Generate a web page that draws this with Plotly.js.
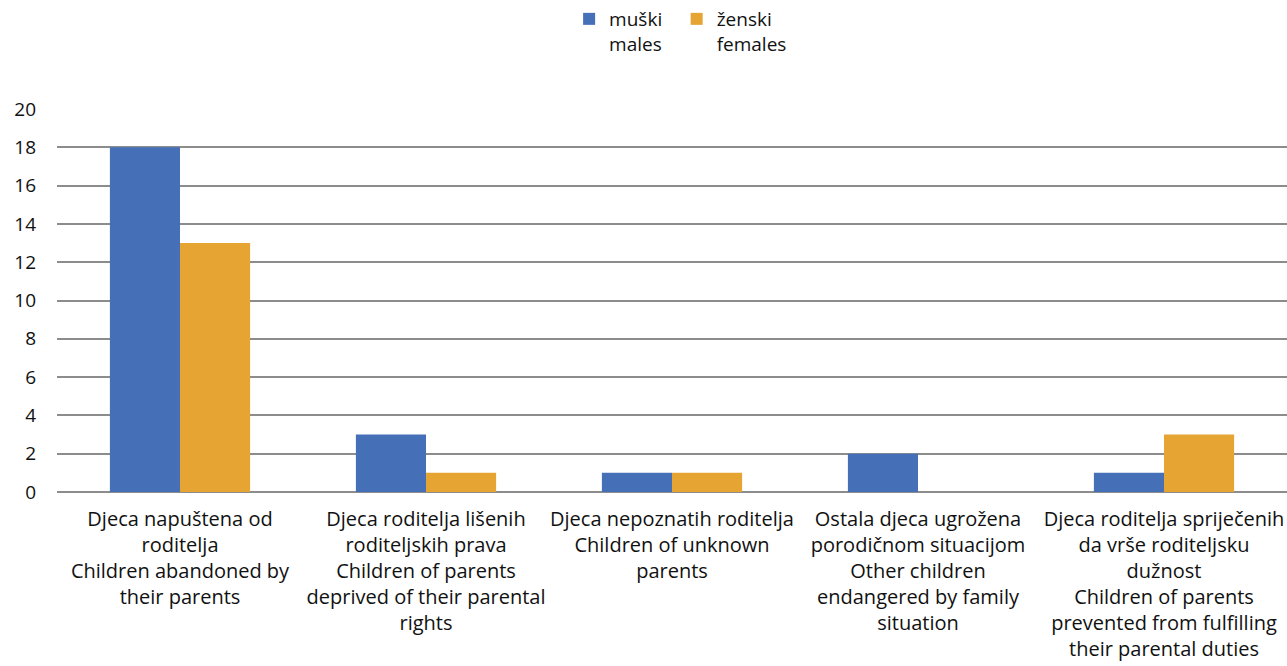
<!DOCTYPE html>
<html>
<head>
<meta charset="utf-8">
<script src="https://cdn.plot.ly/plotly-3.0.1.min.js"></script>
<style>html,body{margin:0;padding:0;background:#fff;}#chart{width:1287px;height:666px;}</style>
</head>
<body>
<div id="chart"></div>
<script>
const categories = [
  "Djeca napuštena od<br>roditelja<br>Children abandoned by<br>their parents",
  "Djeca roditelja lišenih<br>roditeljskih prava<br>Children of parents<br>deprived of their parental<br>rights",
  "Djeca nepoznatih roditelja<br>Children of unknown<br>parents",
  "Ostala djeca ugrožena<br>porodičnom situacijom<br>Other children<br>endangered by family<br>situation",
  "Djeca roditelja spriječenih<br>da vrše roditeljsku<br>dužnost<br>Children of parents<br>prevented from fulfilling<br>their parental duties"
];
const males = [18, 3, 1, 2, 1];
const females = [13, 1, 1, 0, 3];
const seriesNames = ["muški<br>males\u00a0\u00a0", "ženski<br>females"];
const yTicks = [0, 2, 4, 6, 8, 10, 12, 14, 16, 18, 20];

const fam = "Open Sans, sans-serif";
const data = [
  {type: "bar", x: categories, y: males, name: seriesNames[0], marker: {color: "#4570b8"}},
  {type: "bar", x: categories, y: females, name: seriesNames[1], marker: {color: "#e6a532"}}
];
const layout = {
  width: 1287, height: 666,
  margin: {l: 57, r: 0, t: 109, b: 174},
  paper_bgcolor: "#fff", plot_bgcolor: "#fff",
  font: {family: fam, size: 19, color: "#111"},
  barmode: "group", bargap: 0.43, bargroupgap: 0,
  showlegend: true,
  legend: {orientation: "h", x: 0.507, xanchor: "center", xref: "paper", y: 1.0, yref: "container", yanchor: "top", valign: "top", font: {family: fam, size: 19, color: "#111"}, itemwidth: 30, tracegroupgap: 0},
  xaxis: {showgrid: false, zeroline: false, showline: false, ticks: "", ticklabelstandoff: 13, tickfont: {family: fam, size: 20, color: "#111"}, automargin: false},
  yaxis: {range: [0, 20], tickvals: yTicks, showgrid: true, gridcolor: "#8c8c8c", gridwidth: 2, zeroline: true, zerolinecolor: "#8c8c8c", zerolinewidth: 2, showline: false, ticks: "", ticklabelstandoff: 20, tickfont: {family: fam, size: 19, color: "#111"}, automargin: false}
};
Plotly.newPlot("chart", data, layout, {displayModeBar: false, staticPlot: true});
</script>
</body>
</html>
